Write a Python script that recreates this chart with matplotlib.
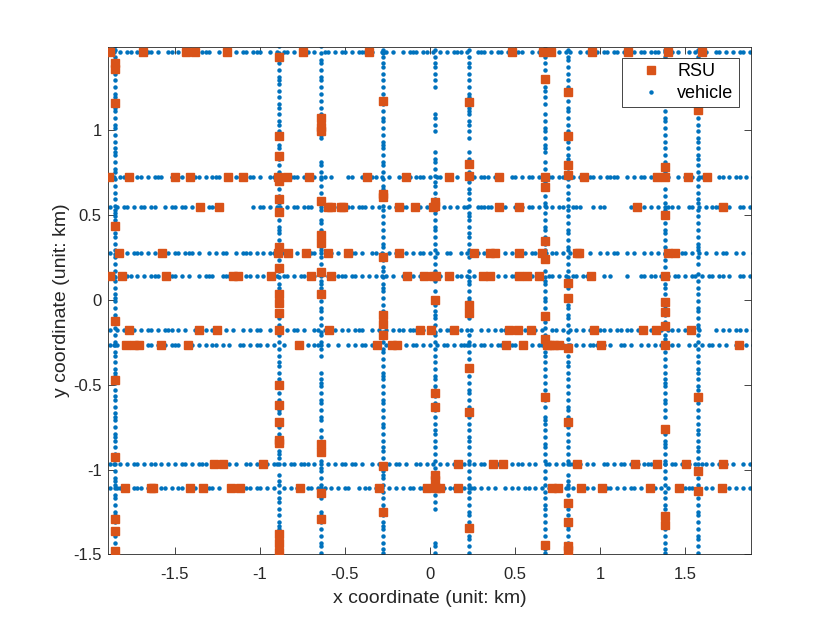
import matplotlib.pyplot as plt

# road positions (km)
road_y = [1.457, 0.72, 0.543, 0.272, 0.139, -0.178, -0.265, -0.965, -1.11]
road_x = [-1.853, -0.888, -0.643, -0.278, 0.028, 0.229, 0.676, 0.81, 1.38, 1.577]

# vehicles: one char per 0.02 km cell along the road, '#' = vehicle
cell = 0.02
hx0 = -1.88
vy0 = -1.49
veh_h = [
    "##.#.##.#. ###.#..##. #.##.#.### ..#.##.#.# #.###..#.# .##.#.###. #..##.#.## .#.###.#.. ##.#..#.## #.##.#.#.# .###.#..## #.#.##.#.# ##..#.###. #.#.##..#. ##.#.##.## .#..#.##.# ##.#.#.#.. #.##.#..## .#.#.##.#.",
    "##.##.#.## .#.###..#. ##.#.##.#. ###.#..### .##.#..##. #..###.#.# #.##.#.... ##..#.###. #.#..##.#. ###.#.##.. #.#..###.# ##.#.#..## .#.##.#..# #.###.#.#. .##.#.#### ..#.#.##.# ###.#..#.# .#.##.#..# #.#.##.#.#",
    "#.#.##.#.# #.##..#.## .##.#..#.# ###....... ..#.##.#.# #.#.##.### ..#.##.#.. ##.###.#.# ..#.#.##.# ##.##.#.#. #.#.##..## ###.#.#..# .#.##.#.#. #.##..###. ..#.##.... ...#.#.#.# .#.###.#.. ##.#.#.### #.#..##.#.",
    "#.##.#.### .#.#..##.# #.###.#..# .#.##..#.# ##.#.#.##. .##..#.### #.#.##.#.. ###.#..##. #.#.##.#.# .##.#.#..# #..#.##.#. ##.#..#.#. #.#.##..#. ##.#.#..#. .#..#.#.## ..#.#..#.# .#.#..#.## .#.#.#..#. ##..#.#..#",
    "##.#.##.#. #.###.#.## .#.#..#.## #..###.#.. ##.#.#.#.# .##.#.##.# #.#.#..### .##.#.#.#. ##.#..##.# .#.###.#.# #.##.#.#.. ###.#.#.## .#.##.#..# #.#.#.##.# #.#..#.#.. ..#...##.# #.#.#.##.# .##.#.##.# #.#..##.#.",
    "#.#.##.#.# .##.#.###. #.#..##.#. ###.#.#..# .#.##..#.# #.#.##.#.. ##.##.#.#. #.###..#.# .#.#.##.## #.#.#..#.# ##.#.##..# .#.#.###.# #.##.#.#.. ##.#.#.#.# .#..##.#.# #.##.#.#.# ..#.##.#.# ##.#....#. #.#.##.#.#",
    "###.#.##.# .##.#.#.## #..##.#.#. ##.#.#..## .#.##.#.#. .#...##.#. ###.#..#.. #.#.##.#.# .##.##.#.# #.#.#.#.## .#.###.#.# #.#.##..## .##.#.##.# ##.#.#.#.# .###.#.#.. ##.#..#.#. #.#.##.#.. #.#.#.##.# .#..##.#.#",
    "##.#.#.##. #.##.#.#.# .##.#.###. #.#.##.#.. ##.#..#.## .#.##.###. #.#.#.#.## .##.#..#.# #.#.##.#.. ##.#.#.#.# .#.##..#.# #.###.#.#. ##.#.#..## .#.#.##.#. #.#..##.#. ##.#.#.### .#.#.##.#. #.#.##.#.# ##.#..#.##",
    "#.##.#.### .#.#.##.#. ##.#.#.#.# #.#..##.#. ##.##.#.#. .#.#.#..## .#.#.#.#.# #..#.##.#. #.#.#.#.## .##.#.#.#. ###.#.##.# .#.#..#.#. #.##.#.#.# .##.#.#..# #.#.#.##.# .#.##.#.#. #.#.#..#.# ##.#.#.#.. #.#.#.#.#.",
]
veh_v = [
    "##.#.###.# .##.#.##.# ###.#.#.## .#.###.#.# ##.#.##.#. #.###.#.## .##.#.#.## #.#.###.#. ##.#.#.### .#.##.#.## ###.#.#.#. #.##.#.### .#.#.##.#. ##.###.#.# .#.##.#.##",
    "#.##.#.### .#.#.##.#. ##.#..#.## #.##.#.#.# .###.#.#.. ##.#.##.#. #.#.##.#.# ##.#.#..## .#.##.#.#. #.#.###.#. ##.#.#.#.# .##.#.##.# #.#.#.##.# .##.#.#.## #.#.##.#.#",
    "#.##.#.#.# .##...#.## #.#.##.#.# .##.#.#..# #.#.##.#.# ##.#....#. #.#.##.#.# .##.#.#.## #.#..#.#.# ##.#.#.##. .#.##.#.#. #.#.##.... ..##.#.### .#.#.#.#.# #.#.##.#.#",
    "##.#.#.### .#.##.#.#. #.###.#.#. ##.#.#.##. #.#.##.#.# .###.#.#.# #.#.##.#.. ##.#.#.### .#.##.#.#. ##.#.#.#.# .##.#.###. #.#.##.#.# ##.#.#.##. #.##.#.#.# .#.##.###.",
    "#.##...... ...#.#.#.# #.##.#.#.# .#.#.##.#. #.#.#.#.## .##.#.#.#. #.#.##.#.# ##.#.#.#.. #.##.#.#.# .#.#.##.#. #.#.#.#.## .#.#.##.#. ....#.#.## .......#.# .#.##.#.#.",
    "#.#.##.#.# .##.#.#.## #.#.#.##.# .#.##.#.#. ##.#.#.##. #.#.##.#.# .##.#....# #.#.##.#.# ##.#...#.# .#.##.#.## #.#.#.##.# .##.#.#.#. ..#.#.##.# ##.###.#.# .#.##.#.#.",
    "##.#.#.#.# .#.##.#.#. #.#.#..#.# .##.#.#.## #..#.##.#. #.#.#.#.## .##.#.#.#. #.#.##.#.# ##.#..#.## .#.#.##.#. #.##.#.#.# .#.#.#..## #.#.##.#.# ..#.#.##.# #.#.#.#.##",
    "#.##.#.### .#.#.#.#.# ##.#..##.# .#.#.#.#.. #.##.#.#.# .#.#.##.#. ##.#.#.#.# #.##.#..## .#.#.#.#.# #.#.##.#.# .##.#.#.#. #.#.#.##.# .#.##.#.#. ##.#.#.#.# .#.#.##.#.",
    "##.#.#.### .#.##.#.#. #.#.#.##.# .###.#.#.. #.#.##.#.# ##.#.#.#.# .#.##.###. #.#.#.#.## .##.#.#.#. #.#.##.#.# ##.#.#.#.. #.#.##.#.# .#.#.#.##. #.##.#.#.# .#.#.##.#.",
    "#.#.##.#.# .##.#.#.## #.#.#.#.#. ##.#.##.#. #.#.#.#.## .#.##.#.#. #.#.#.##.# .##.#.#.#. #.#..#.#.# ##.#.#.#.# .#.##.#.#. #.#.#.##.# .##.#.#.#. #.#.#.#.## .#.##.#.#.",
]

# RSU positions along each road (x for horizontal roads, y for vertical roads)
rsu_h = [
    [-1.882, -1.69, -1.435, -1.384, -1.196, -0.749, -0.359, 0.482, 0.663, 0.71, 0.951, 1.166, 1.402, 1.598],
    [-1.886, -1.769, -1.498, -1.412, -1.186, -1.102, -0.892, -0.839, -0.714, -0.372, -0.141, 0.11, 0.408,
     0.678, 0.906, 1.334, 1.381, 1.514, 1.628],
    [-1.353, -1.243, -0.598, -0.584, -0.525, -0.514, -0.184, -0.086, 0.019, 0.408, 0.525, 1.216, 1.725],
    [-1.828, -1.578, -0.892, -0.834, -0.729, -0.6, -0.481, -0.184, 0.259, 0.353, 0.382, 0.522, 0.657,
     0.863, 0.878, 1.402, 1.441],
    [-1.882, -1.814, -1.553, -1.161, -1.128, -0.937, -0.7, -0.584, -0.134, -0.035, 0.016, 0.035, 0.114,
     0.314, 0.353, 0.525, 0.572, 0.643, 0.945, 1.382],
    [-1.769, -1.357, -1.255, -0.886, -0.592, -0.059, 0.004, 0.143, 0.466, 0.519, 0.592, 0.965, 1.251,
     1.328, 1.534],
    [-1.788, -1.741, -1.71, -1.582, -1.422, -0.769, -0.314, -0.225, -0.196, 0.447, 0.545, 0.686, 0.706,
     0.729, 0.761, 1.008, 1.384, 1.816],
    [-1.271, -1.216, -0.984, 0.166, 0.369, 0.428, 0.863, 1.206, 1.334, 1.506, 1.725],
    [-1.792, -1.643, -1.628, -1.412, -1.334, -1.172, -1.118, -0.765, -0.298, -0.016, 0.035, 0.059, 0.166,
     0.716, 0.755, 0.886, 1.01, 1.294, 1.466, 1.714],
]
rsu_v = [
    [1.392, 1.359, 1.155, 0.435, -0.128, -0.476, -0.924, -1.29, -1.359, -1.48],
    [1.425, 0.965, 0.843, 0.696, 0.592, 0.514, 0.308, 0.186, 0.034, -0.022, -0.081, -0.5, -0.618, -0.722,
     -0.829, -0.845, -1.382, -1.434, -1.486],
    [1.069, 1.014, 0.994, 0.582, 0.382, 0.331, 0.165, 0.032, -0.849, -0.898, -1.139, -1.29],
    [1.166, 0.622, 0.602, 0.249, -0.088, -0.143, -0.206, -0.982, -1.251],
    [0.572, 0.553, 0.0, -0.551, -0.63, -1.035, -1.06],
    [1.161, 0.8, 0.729, -0.03, -0.08, -0.402, -0.663, -1.345],
    [1.298, 0.665, 0.347, 0.239, -0.096, -0.231, -0.575, -1.447],
    [1.224, 0.965, 0.794, 0.735, 0.096, 0.01, -0.284, -0.722, -1.198, -1.31, -1.453, -1.472],
    [0.778, 0.5, -0.016, -0.075, -0.153, -0.761, -1.276, -1.329],
    [1.116, -0.575, -1.01, -1.128],
]

# collect points
vx, vy = [], []
for yr, s in zip(road_y, veh_h):
    s = s.replace(" ", "")
    for i, c in enumerate(s):
        if c == "#":
            vx.append(hx0 + i * cell)
            vy.append(yr)
for xr, s in zip(road_x, veh_v):
    s = s.replace(" ", "")
    for i, c in enumerate(s):
        if c == "#":
            vx.append(xr)
            vy.append(vy0 + i * cell)

rx, ry = [], []
for yr, xs in zip(road_y, rsu_h):
    rx += xs
    ry += [yr] * len(xs)
for xr, ys in zip(road_x, rsu_v):
    rx += [xr] * len(ys)
    ry += ys

plt.rcParams['font.family'] = ['Liberation Sans', 'DejaVu Sans']
fig = plt.figure(figsize=(8.3, 6.23), dpi=100)
ax = fig.add_axes([0.13, 0.11, 0.775, 0.815])

ax.plot(rx, ry, 's', color='#D95319', ms=5.2, mec='#D95319', ls='none', label='RSU', zorder=3)
ax.plot(vx, vy, '.', color='#0072BD', ms=4.4, ls='none', label='vehicle', zorder=2)

ax.set_xlim(-1.894, 1.888)
ax.set_ylim(-1.5, 1.488)
ax.set_xticks([-1.5, -1, -0.5, 0, 0.5, 1, 1.5])
ax.set_xticklabels(['-1.5', '-1', '-0.5', '0', '0.5', '1', '1.5'])
ax.set_yticks([-1.5, -1, -0.5, 0, 0.5, 1])
ax.set_yticklabels(['-1.5', '-1', '-0.5', '0', '0.5', '1'])
ax.tick_params(direction='in', top=True, right=True, labelsize=12, colors='#262626',
               length=5, width=0.6)
ax.tick_params(axis='x', pad=9)
ax.tick_params(axis='y', pad=4.5)
for sp in ax.spines.values():
    sp.set_color('#262626')
    sp.set_linewidth(0.6)
ax.set_xlabel('x coordinate (unit: km)', fontsize=14, color='#262626', labelpad=6)
ax.set_ylabel('y coordinate (unit: km)', fontsize=14, color='#262626', labelpad=2)

leg = ax.legend(loc='upper right', bbox_to_anchor=(739 / 830, 1 - 58 / 623),
                bbox_transform=fig.transFigure, borderaxespad=0, fancybox=False,
                framealpha=1, edgecolor='#262626', fontsize=13, handlelength=2.6,
                handletextpad=0.15, borderpad=0.3, labelspacing=0.25)
leg.get_frame().set_linewidth(0.6)

fig.savefig('out.png', dpi=100)
